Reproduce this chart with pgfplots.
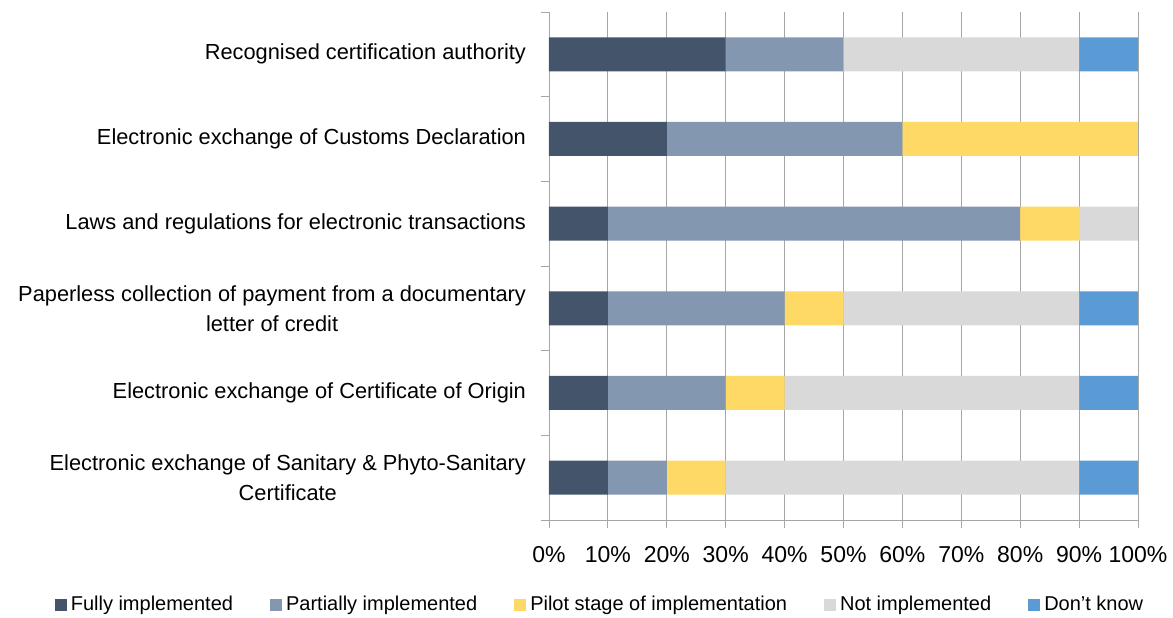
\documentclass[border=0pt]{standalone}
\usepackage{fontspec}
\setmainfont{Liberation Sans}
\usepackage{pgfplots}
\pgfplotsset{compat=1.18}
\definecolor{cFull}{HTML}{44546A}
\definecolor{cPart}{HTML}{8497B0}
\definecolor{cPilot}{HTML}{FFD966}
\definecolor{cNot}{HTML}{D9D9D9}
\definecolor{cDK}{HTML}{5B9BD5}
\definecolor{cGrid}{HTML}{A6A6A6}
\begin{document}
\begin{tikzpicture}
\begin{axis}[
  name=ax,
  scale only axis,
  width=294.5pt, height=254pt,
  xbar stacked,
  bar width=17pt,
  xmin=0, xmax=100,
  ymin=-0.5, ymax=5.5,
  xtick={0,10,...,100},
  xticklabels={0\%,10\%,20\%,30\%,40\%,50\%,60\%,70\%,80\%,90\%,100\%},
  ytick={-0.5,0.5,...,5.5},
  y tick label as interval,
  yticklabels={
    {Electronic exchange of Sanitary \& Phyto-Sanitary\\Certificate},
    {Electronic exchange of Certificate of Origin},
    {Paperless collection of payment from a documentary\\letter of credit},
    {Laws and regulations for electronic transactions},
    {Electronic exchange of Customs Declaration},
    {Recognised certification authority}},
  yticklabel style={align=center, font=\fontsize{10.9}{15}\selectfont, xshift=-4pt},
  xticklabel style={yshift=-5.5pt, font=\fontsize{11.5}{13}\selectfont},
  tick align=outside,
  major tick length=4pt,
  tick style={draw=cGrid, thin},
  axis x line*=bottom,
  axis y line*=left,
  axis line style={draw=cGrid, thin, -},
  xmajorgrids,
  grid style={draw=cGrid, thin},
  legend columns=5,
  legend style={at={(0.0883,-0.167)}, anchor=center, draw=none, fill=none,
    /tikz/every even column/.append style={column sep=16.5pt},
    font=\fontsize{10}{12}\selectfont},
  legend image code/.code={\fill[#1] (0pt,-3pt) rectangle (6pt,3pt);},
  legend cell align=left,
]
\addplot+[fill=cFull, draw=none] coordinates {(10,0) (10,1) (10,2) (10,3) (20,4) (30,5)};
\addplot+[fill=cPart, draw=none] coordinates {(10,0) (20,1) (30,2) (70,3) (40,4) (20,5)};
\addplot+[fill=cPilot, draw=none] coordinates {(10,0) (10,1) (10,2) (10,3) (40,4) (0,5)};
\addplot+[fill=cNot, draw=none] coordinates {(60,0) (50,1) (40,2) (10,3) (0,4) (40,5)};
\addplot+[fill=cDK, draw=none] coordinates {(10,0) (10,1) (10,2) (0,3) (0,4) (10,5)};
\legend{Fully implemented, Partially implemented, Pilot stage of implementation, Not implemented, Don't know}
\end{axis}
\pgfresetboundingbox
\useasboundingbox ([xshift=-274.5pt,yshift=-49pt]ax.south west) rectangle ([xshift=17.5pt,yshift=6pt]ax.north east);
\end{tikzpicture}
\end{document}
